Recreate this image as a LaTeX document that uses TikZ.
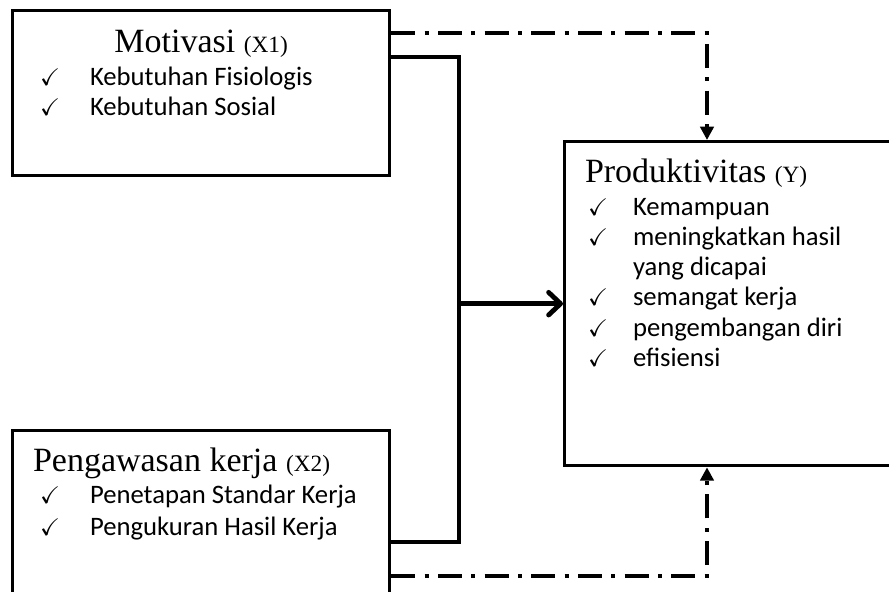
\documentclass[tikz,border=0pt]{standalone}
\usepackage{amssymb}
\usepackage{fontspec}
\setmainfont{Liberation Serif}
\newfontfamily\calibri{Carlito}
\usepackage{tikz}
\usetikzlibrary{arrows.meta,calc,positioning}
\tikzstyle{kotak}=[rectangle,draw,line width=2.5pt,anchor=north west,inner sep=0pt]
\tikzstyle{teks}=[inner sep=0pt,outer sep=0pt]
\tikzstyle{garis}=[line width=3.6pt]
\tikzstyle{putus}=[line width=3pt,dash pattern=on 18pt off 7pt on 3pt off 7pt,
  -{Triangle[length=10pt,width=10pt]}]
\newcommand{\cek}{{\fontsize{18}{18}\selectfont$\checkmark$}}
\newcommand{\judul}[2]{{\fontsize{25.5}{28}\selectfont #1 }{\fontsize{17.5}{20}\selectfont (#2)}}

\begin{document}
\begin{tikzpicture}[x=0.75pt,y=-0.75pt]
  \useasboundingbox (0,0) rectangle (889,592);
  \node[kotak, minimum width=282.75pt, minimum height=123.75pt] (motivasi) at (11,9) {};
  \node[kotak, minimum width=282.75pt, minimum height=128.25pt] (pengawasan) at (11,429) {};
  \node[kotak, minimum width=252.75pt, minimum height=243pt] (produktivitas) at (563,140) {};
  \node[teks, anchor=base] (judulx1) at ($(motivasi.north)+(0,44)$) {\judul{Motivasi}{X1}};
  \node[teks, anchor=base west] (daftarx1) at ($(motivasi.north west)+(29,76)$)
    {\calibri\fontsize{20}{22.5}\selectfont
     \begin{tabular}[t]{@{}p{37.5pt}@{}l@{}}
       \cek & Kebutuhan Fisiologis\\
       \cek & Kebutuhan Sosial
     \end{tabular}};
  \node[teks, anchor=base west] (judulx2) at ($(pengawasan.north west)+(22,42)$)
    {\judul{Pengawasan kerja}{X2}};
  \node[teks, anchor=base west] (daftarx2) at ($(pengawasan.north west)+(29,74)$)
    {\calibri\fontsize{20}{24}\selectfont
     \begin{tabular}[t]{@{}p{37.5pt}@{}l@{}}
       \cek & Penetapan Standar Kerja\\
       \cek & Pengukuran Hasil Kerja
     \end{tabular}};
  \node[teks, anchor=base west] (juduly) at ($(produktivitas.north west)+(22,42)$)
    {\judul{Produktivitas}{Y}};
  \node[teks, anchor=base west] (daftary) at ($(produktivitas.north west)+(25,75)$)
    {\calibri\fontsize{20}{22.7}\selectfont
     \begin{tabular}[t]{@{}p{33.75pt}@{}l@{}}
       \cek & Kemampuan\\
       \cek & meningkatkan hasil\\
            & yang dicapai\\
       \cek & semangat kerja\\
       \cek & pengembangan diri\\
       \cek & efisiensi
     \end{tabular}};
  \coordinate (simpul) at ($(produktivitas.west)+(-104,0)$);
  \draw[garis] ($(motivasi.north east)+(0,48)$) -| (simpul)
    |- ($(pengawasan.north east)+(0,113)$);
  \draw[garis, -{Straight Barb[length=9pt,width=17pt,round]}] (simpul) -- (produktivitas.west);
  \draw[putus] ($(motivasi.north east)+(0,24)$) -| ($(produktivitas.north west)+(144,0)$);
  \draw[putus] ($(pengawasan.north east)+(0,147)$) -| ($(produktivitas.south west)+(144,0)$);
\end{tikzpicture}
\end{document}
